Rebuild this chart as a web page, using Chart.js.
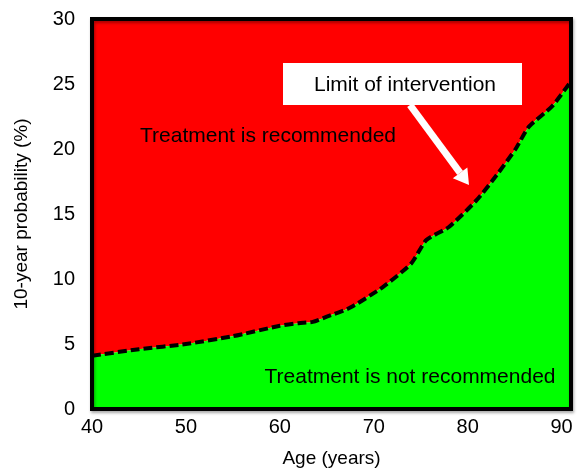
<!DOCTYPE html>
<html>
<head>
<meta charset="utf-8">
<script src="https://cdn.jsdelivr.net/npm/chart.js@4/dist/chart.umd.min.js"></script>
<style>
  html, body { margin: 0; padding: 0; background: #fff; }
  #wrap { width: 577px; height: 470px; }
</style>
</head>
<body>
<div id="wrap"><canvas id="chart"></canvas></div>
<script>
// threshold curve
const ages = [40, 45, 50, 55, 60, 62, 63.5, 65, 67.5, 71, 74, 75.6, 78, 81, 83.3, 85.1, 86.5, 89, 91];
const risk = [4.1, 4.6, 5.0, 5.6, 6.4, 6.6, 6.7, 7.1, 7.8, 9.4, 11.2, 13.0, 14.0, 16.1, 18.2, 20.0, 21.7, 23.3, 25.2];
const xTicks = [40, 50, 60, 70, 80, 90];
const yTicks = [0, 5, 10, 15, 20, 25, 30];

const FONT = '"Liberation Sans", Arial, Helvetica, sans-serif';
const points = ages.map((a, i) => ({ x: a, y: risk[i] }));

// frame + text labels + arrow
const overlay = {
  id: 'overlay',
  afterDatasetsDraw(chart) {
    const { ctx, chartArea: a } = chart;
    ctx.save();

    ctx.fillStyle = '#000';
    ctx.font = '21px ' + FONT;
    ctx.textAlign = 'center';
    ctx.textBaseline = 'middle';
    ctx.fillText('Treatment is recommended', a.left + 176, a.top + 117);
    ctx.fillText('Treatment is not recommended', a.left + 318, a.top + 358);

    // callout box
    ctx.fillStyle = '#fff';
    ctx.fillRect(a.left + 191, a.top + 44, 239, 42);
    ctx.fillStyle = '#000';
    ctx.fillText('Limit of intervention', a.left + 313, a.top + 66);

    // arrow
    const x0 = a.left + 318, y0 = a.top + 86;
    const x1 = a.left + 377, y1 = a.top + 166;
    const ang = Math.atan2(y1 - y0, x1 - x0);
    const hx = x1 - 15 * Math.cos(ang), hy = y1 - 15 * Math.sin(ang);
    ctx.strokeStyle = '#fff';
    ctx.lineWidth = 7;
    ctx.beginPath();
    ctx.moveTo(x0, y0);
    ctx.lineTo(hx, hy);
    ctx.stroke();
    ctx.fillStyle = '#fff';
    ctx.beginPath();
    ctx.moveTo(x1, y1);
    ctx.lineTo(hx + 9 * Math.sin(ang), hy - 9 * Math.cos(ang));
    ctx.lineTo(hx - 9 * Math.sin(ang), hy + 9 * Math.cos(ang));
    ctx.closePath();
    ctx.fill();

    // frame
    ctx.shadowColor = 'rgba(0,0,0,0.35)';
    ctx.shadowBlur = 3;
    ctx.shadowOffsetX = 1;
    ctx.shadowOffsetY = 2;
    ctx.strokeStyle = '#000';
    ctx.lineWidth = 4;
    ctx.strokeRect(a.left, a.top, a.right - a.left, a.bottom - a.top);
    ctx.restore();
  }
};

new Chart(document.getElementById('chart'), {
  type: 'line',
  data: {
    datasets: [{
      label: 'limit',
      data: points,
      fill: 'origin',
      backgroundColor: '#00ff00',
      borderColor: '#000',
      borderWidth: 4,
      borderDash: [9, 4],
      pointRadius: 0,
      tension: 0.2
    }, {
      label: 'recommended',
      data: points,
      fill: 'end',
      backgroundColor: '#ff0000',
      borderWidth: 0,
      pointRadius: 0,
      tension: 0.2
    }]
  },
  plugins: [overlay],
  options: {
    responsive: true,
    maintainAspectRatio: false,
    animation: false,
    layout: { padding: { top: 19, right: 6 } },
    plugins: { legend: { display: false }, tooltip: { enabled: false } },
    scales: {
      x: {
        type: 'linear',
        min: 40,
        max: 91,
        afterBuildTicks: (s) => { s.ticks = xTicks.map(v => ({ value: v })); },
        afterFit: (s) => { s.height = 61; s.paddingRight = 0; },
        grid: { display: false },
        border: { display: false },
        ticks: { color: '#000', font: { family: FONT, size: 20 }, padding: -2, maxRotation: 0 },
        title: { display: true, text: 'Age (years)', color: '#000', font: { family: FONT, size: 19 }, padding: { top: 11, bottom: 0 } }
      },
      y: {
        min: 0,
        max: 30,
        afterBuildTicks: (s) => { s.ticks = yTicks.map(v => ({ value: v })); },
        afterFit: (s) => { s.width = 92; s.paddingTop = 0; s.paddingBottom = 0; },
        grid: { display: false },
        border: { display: false },
        ticks: { color: '#000', font: { family: FONT, size: 20 }, padding: 9 },
        title: { display: true, text: '10-year probability (%)', color: '#000', font: { family: FONT, size: 19 }, padding: { top: 10, bottom: 0 } }
      }
    }
  }
});
</script>
</body>
</html>
